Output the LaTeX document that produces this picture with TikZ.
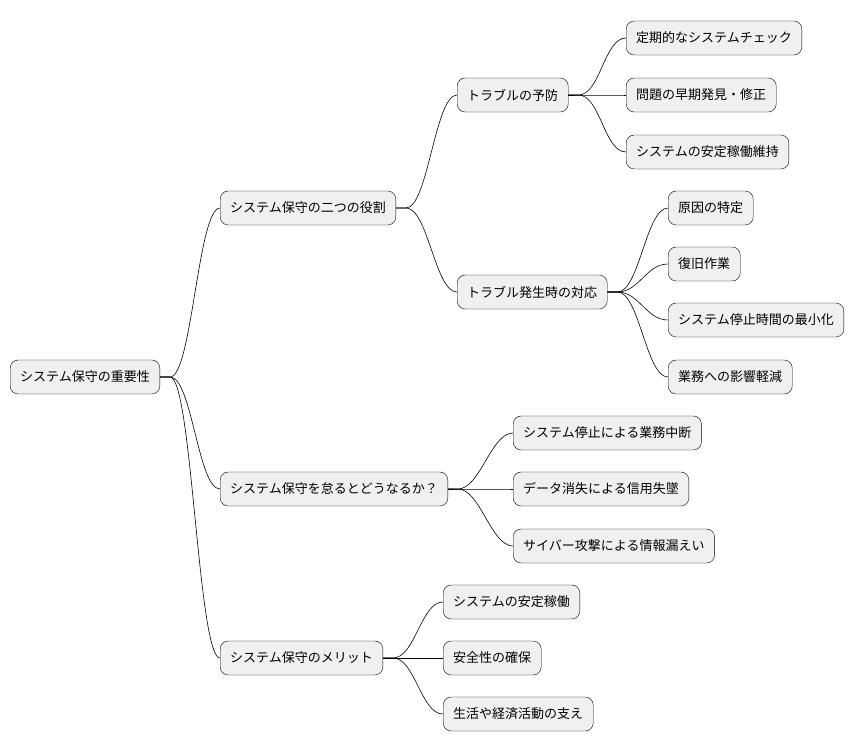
\documentclass[tikz,border=0pt]{standalone}
\usepackage{fontspec}
\newfontfamily\jpfont{Noto Sans CJK JP}
\usepackage{tikz}
\usetikzlibrary{calc}
\tikzset{
  topic/.style={draw=black, fill=black!6, rounded corners=8pt, anchor=west,
    minimum height=34pt, inner xsep=10pt, font=\jpfont\fontsize{13pt}{15pt}\selectfont},
  branch/.style={draw=black, line width=0.6pt}
}
\newcommand{\linkto}[2]{\draw[branch] (#1.east) -- ++(10,0) .. controls +(22,0) and +(-22,0) .. (#2.west);}

\begin{document}
\begin{tikzpicture}[x=1pt,y=-1pt]
    \useasboundingbox (0,0) rectangle (866,752);
    %root and first level
    \node[topic] (root) at (10,377) {システム保守の重要性};
    \node[topic] (role) at (220,208) {システム保守の二つの役割};
    \node[topic] (neglect) at (220,489) {システム保守を怠るとどうなるか？};
    \node[topic] (merit) at (220,658) {システム保守のメリット};
    %second level
    \node[topic] (prevent) at (457,95) {トラブルの予防};
    \node[topic] (respond) at (457,292) {トラブル発生時の対応};
    %leaves
    \node[topic] (check) at (626,38) {定期的なシステムチェック};
    \node[topic] (early) at (626,95) {問題の早期発見・修正};
    \node[topic] (stable) at (626,152) {システムの安定稼働維持};
    \node[topic] (cause) at (668,208) {原因の特定};
    \node[topic] (recover) at (668,264) {復旧作業};
    \node[topic] (downtime) at (668,320) {システム停止時間の最小化};
    \node[topic] (impact) at (668,377) {業務への影響軽減};
    \node[topic] (stop) at (513,433) {システム停止による業務中断};
    \node[topic] (trust) at (513,489) {データ消失による信用失墜};
    \node[topic] (leak) at (513,546) {サイバー攻撃による情報漏えい};
    \node[topic] (run) at (443,602) {システムの安定稼働};
    \node[topic] (safe) at (443,658) {安全性の確保};
    \node[topic] (life) at (443,714) {生活や経済活動の支え};
    %connectors
    \foreach \p/\c in {root/role, root/neglect, root/merit, role/prevent, role/respond,
        prevent/check, prevent/early, prevent/stable, respond/cause, respond/recover,
        respond/downtime, respond/impact, neglect/stop, neglect/trust, neglect/leak,
        merit/run, merit/safe, merit/life}
        {\linkto{\p}{\c}}
\end{tikzpicture}
\end{document}
